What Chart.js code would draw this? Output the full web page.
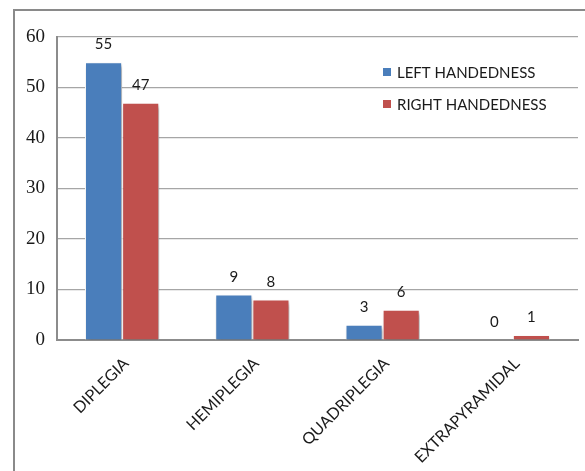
<!DOCTYPE html>
<html><head><meta charset="utf-8">
<script src="https://cdn.jsdelivr.net/npm/chart.js@4.4.0/dist/chart.umd.min.js"></script>
<style>html,body{margin:0;padding:0;background:#fff;overflow:hidden;}</style>
</head><body>
<canvas id="c" width="585" height="471" style="display:block;width:585px;height:471px"></canvas>
<script>
const categories = ['DIPLEGIA', 'HEMIPLEGIA', 'QUADRIPLEGIA', 'EXTRAPYRAMIDAL'];
const leftHandedness = [55, 9, 3, 0];
const rightHandedness = [47, 8, 6, 1];
const seriesNames = ['LEFT HANDEDNESS', 'RIGHT HANDEDNESS'];
const yMin = 0, yMax = 60, yStep = 10;

const BLUE = '#4A7EBB', RED = '#C0504D';
const SANS = 'Lato, "Open Sans", sans-serif';

const framePlugin = {
  id: 'frame',
  beforeDraw(chart) {
    const ctx = chart.ctx;
    ctx.save();
    ctx.strokeStyle = '#8a8a8a';
    ctx.lineWidth = 2;
    ctx.beginPath();
    ctx.moveTo(14, 471);
    ctx.lineTo(14, 10);
    ctx.lineTo(585, 10);
    ctx.stroke();
    ctx.restore();
  }
};

const shadowPlugin = {
  id: 'barShadow',
  beforeDatasetsDraw(chart) {
    const ctx = chart.ctx;
    ctx.save();
    ctx.shadowColor = 'rgba(0,0,0,0.35)';
    ctx.shadowBlur = 4;
    ctx.shadowOffsetX = 2;
    ctx.shadowOffsetY = 3;
  },
  afterDatasetsDraw(chart) {
    chart.ctx.restore();
  }
};

const valueLabels = {
  id: 'valueLabels',
  afterDatasetsDraw(chart) {
    const ctx = chart.ctx;
    ctx.save();
    ctx.font = '15px ' + SANS;
    ctx.fillStyle = '#1a1a1a';
    ctx.textAlign = 'center';
    ctx.textBaseline = 'alphabetic';
    chart.data.datasets.forEach((ds, i) => {
      const meta = chart.getDatasetMeta(i);
      meta.data.forEach((el, j) => {
        ctx.fillText(String(ds.data[j]), el.x, el.y - 13);
      });
    });
    ctx.restore();
  }
};

const customLegend = {
  id: 'customLegend',
  afterDraw(chart) {
    const ctx = chart.ctx;
    ctx.save();
    ctx.font = '15px ' + SANS;
    ctx.textBaseline = 'middle';
    ctx.textAlign = 'left';
    const x0 = 383, ys = [72, 104];
    chart.data.datasets.forEach((ds, i) => {
      const y = ys[i];
      ctx.fillStyle = ds.backgroundColor;
      ctx.fillRect(x0, y - 4, 8, 8);
      ctx.fillStyle = '#1a1a1a';
      ctx.fillText(ds.label, x0 + 14, y + 1);
    });
    ctx.restore();
  }
};

new Chart(document.getElementById('c'), {
  type: 'bar',
  data: {
    labels: categories,
    datasets: [
      { label: seriesNames[0], data: leftHandedness, backgroundColor: BLUE, borderColor: '#ffffff', borderWidth: 1 },
      { label: seriesNames[1], data: rightHandedness, backgroundColor: RED, borderColor: '#ffffff', borderWidth: 1 }
    ]
  },
  options: {
    responsive: false,
    animation: false,
    devicePixelRatio: 1,
    layout: { padding: { left: 0, top: 37, right: 7, bottom: 0 } },
    datasets: { bar: { categoryPercentage: 0.57, barPercentage: 1.0 } },
    plugins: { legend: { display: false }, tooltip: { enabled: false } },
    scales: {
      y: {
        min: yMin, max: yMax,
        ticks: { stepSize: yStep, padding: 12, color: '#1a1a1a', font: { family: '"Liberation Serif", "Times New Roman", serif', size: 19 } },
        grid: { color: '#a6a6a6', lineWidth: 1.2, drawTicks: false },
        border: { display: true, color: '#8c8c8c', width: 2 },
        afterFit(s) { s.width = 57; }
      },
      x: {
        ticks: { minRotation: 45, maxRotation: 45, padding: 14, labelOffset: 4, color: '#1a1a1a', font: { family: SANS, size: 16 } },
        grid: { display: false, drawTicks: false },
        border: { display: true, color: '#8c8c8c', width: 2 },
        afterFit(s) { s.height = 131; }
      }
    }
  },
  plugins: [framePlugin, shadowPlugin, valueLabels, customLegend]
});
</script>
</body></html>
